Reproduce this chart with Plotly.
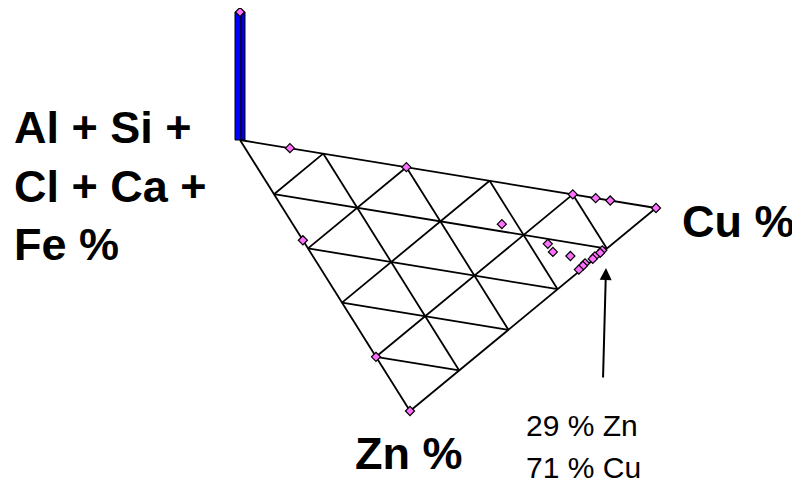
import plotly.graph_objects as go

# ternary composition of each sample (fractions): Cu, Zn, rest = Al+Si+Cl+Ca+Fe
cu_frac = [0.12, 0.40, 0.80, 0.855, 0.89, 1.00, 0.00, 0.00, 0.00,
           0.56, 0.65, 0.65, 0.69,
           0.785, 0.775, 0.755, 0.745, 0.717, 0.707, 0.69]
zn_frac = [0.00, 0.00, 0.00, 0.00, 0.00, 0.00, 0.37, 0.80, 1.00,
           0.17, 0.22, 0.25, 0.255,
           0.21, 0.222, 0.24, 0.252, 0.275, 0.287, 0.305]

# column standing on the Al+Si+Cl+Ca+Fe corner (samples at 100 %)
corner_column = [128]

grid_steps = [0.2, 0.4, 0.6, 0.8]

# screen placement of the three corners (perspective view of the triangle)
A = (240, 140)   # Al + Si + Cl + Ca + Fe
C = (656, 208)   # Cu
Z = (410, 411)   # Zn


def project(cu, zn):
    a = 1 - cu - zn
    x = a * A[0] + cu * C[0] + zn * Z[0]
    y = a * A[1] + cu * C[1] + zn * Z[1]
    return x, y


fig = go.Figure()

# triangle outline and grid
segments = [((0, 0), (1, 0)), ((1, 0), (0, 1)), ((0, 1), (0, 0))]
for k in grid_steps:
    segments.append(((k, 0), (k, 1 - k)))        # constant Cu
    segments.append(((0, k), (1 - k, k)))        # constant Zn
    segments.append(((1 - k, 0), (0, 1 - k)))    # constant rest
gx, gy = [], []
for p, q in segments:
    x0, y0 = project(*p)
    x1, y1 = project(*q)
    gx += [x0, x1, None]
    gy += [y0, y1, None]
fig.add_trace(go.Scatter(x=gx, y=gy, mode='lines',
                         line=dict(color='black', width=1.8),
                         hoverinfo='skip'))

# column at the corner: front face and side face
fig.add_trace(go.Bar(x=[A[0] - 2], y=[-corner_column[0]], base=[A[1]],
                     width=6, marker_color='#0000ff',
                     marker_line=dict(color='black', width=1)))
fig.add_trace(go.Bar(x=[A[0] + 3], y=[-corner_column[0]], base=[A[1]],
                     width=4, marker_color='#0000dd',
                     marker_line=dict(color='black', width=1)))

# samples
px, py = zip(*[project(c, z) for c, z in zip(cu_frac, zn_frac)])
px = list(px) + [A[0]]
py = list(py) + [A[1] - corner_column[0]]
fig.add_trace(go.Scatter(x=px, y=py, mode='markers',
                         marker=dict(symbol='diamond', size=7, color='#ff70ff',
                                     line=dict(color='black', width=1.2))))

bold = dict(family='Arial, Liberation Sans, sans-serif', size=45, color='black')
plain = dict(family='Arial, Liberation Sans, sans-serif', size=30, color='black')

fig.add_annotation(x=12, y=186, text='<b>Al + Si +<br>Cl + Ca +<br>Fe %</b>',
                   showarrow=False, xanchor='left', yanchor='middle',
                   align='left', font=bold)
fig.add_annotation(x=680, y=221, text='<b>Cu %</b>', showarrow=False,
                   xanchor='left', yanchor='middle', font=bold)
fig.add_annotation(x=353, y=453, text='<b>Zn %</b>', showarrow=False,
                   xanchor='left', yanchor='middle', font=bold)
fig.add_annotation(x=524, y=425, text='29 % Zn', showarrow=False,
                   xanchor='left', yanchor='middle', font=plain)
fig.add_annotation(x=524, y=467, text='71 % Cu', showarrow=False,
                   xanchor='left', yanchor='middle', font=plain)
fig.add_annotation(x=606, y=268, ax=603, ay=379, axref='x', ayref='y',
                   text='', showarrow=True, arrowhead=2, arrowsize=1.2,
                   arrowwidth=2, arrowcolor='black')

# the page adds an 8px body margin, so the view is offset by that amount
fig.update_layout(
    width=800, height=488,
    margin=dict(l=0, r=0, t=0, b=0),
    plot_bgcolor='white', paper_bgcolor='white',
    showlegend=False, barmode='overlay',
    xaxis=dict(range=[8, 808], visible=False),
    yaxis=dict(range=[496, 8], visible=False),
)

fig.write_html("out.html")
